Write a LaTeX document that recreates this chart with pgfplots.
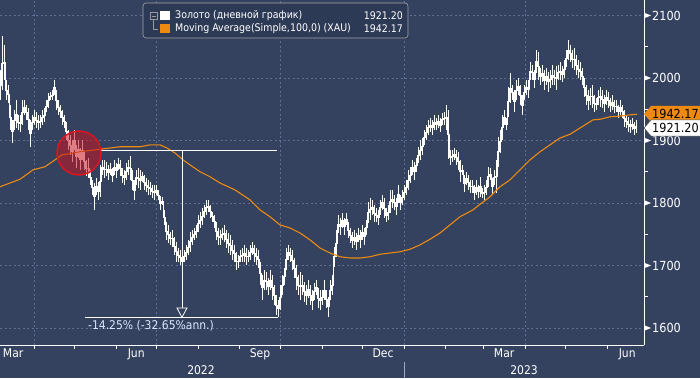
\documentclass[border=0pt]{standalone}
\usepackage{pgfplots}
\usepackage{pgfplotstable}
\pgfplotsset{compat=1.18}
\usepackage{fontspec}
\setmainfont{DejaVu Sans Condensed}
\definecolor{bg}{HTML}{34425F}
\definecolor{gridc}{HTML}{5C6F95}
\definecolor{ma}{HTML}{EE8A10}
\definecolor{legbg}{HTML}{2D3A56}
\definecolor{ann}{HTML}{DCE6FF}
\definecolor{circ}{HTML}{C8141E}
\definecolor{circb}{HTML}{E0141E}
\pgfplotstableread{
i hi lo
0 2013 1965
1 2067 1981
2 2053 1997
3 1997 1965
4 1989 1960
5 1957 1917
6 1933 1896
7 1949 1917
8 1965 1920
9 1941 1917
10 1941 1914
11 1965 1925
12 1965 1941
13 1957 1933
14 1952 1917
15 1933 1890
16 1941 1917
17 1949 1925
18 1946 1920
19 1941 1917
20 1941 1920
21 1949 1925
22 1952 1930
23 1965 1946
24 1976 1952
25 1978 1965
26 1981 1965
27 1997 1973
28 1981 1949
29 1965 1941
30 1957 1936
31 1949 1925
32 1941 1920
33 1930 1901
34 1917 1885
35 1909 1877
36 1901 1866
37 1917 1885
38 1893 1856
39 1901 1872
40 1888 1853
41 1901 1869
42 1882 1853
43 1869 1843
44 1872 1840
45 1853 1829
46 1837 1813
47 1832 1789
48 1840 1813
49 1834 1805
50 1861 1810
51 1869 1845
52 1869 1840
53 1866 1843
54 1861 1837
55 1864 1845
56 1856 1834
57 1869 1845
58 1864 1840
59 1872 1853
60 1869 1843
61 1856 1832
62 1853 1829
63 1864 1837
64 1869 1845
65 1875 1837
66 1853 1821
67 1837 1805
68 1853 1829
69 1856 1824
70 1853 1821
71 1850 1834
72 1845 1821
73 1840 1818
74 1837 1813
75 1834 1813
76 1829 1808
77 1829 1805
78 1829 1813
79 1821 1805
80 1811 1789
81 1810 1797
82 1789 1765
83 1770 1741
84 1765 1736
85 1754 1733
86 1757 1730
87 1746 1717
88 1738 1706
89 1728 1706
90 1725 1701
91 1722 1690
92 1725 1706
93 1733 1709
94 1741 1717
95 1754 1722
96 1757 1733
97 1760 1741
98 1765 1744
99 1781 1754
100 1786 1760
101 1792 1765
102 1797 1776
103 1805 1781
104 1805 1786
105 1797 1776
106 1786 1770
107 1781 1760
108 1770 1741
109 1760 1733
110 1757 1733
111 1760 1741
112 1765 1738
113 1757 1728
114 1752 1720
115 1749 1717
116 1741 1709
117 1733 1706
118 1722 1693
119 1717 1696
120 1725 1706
121 1728 1706
122 1733 1706
123 1728 1701
124 1725 1706
125 1733 1709
126 1738 1717
127 1733 1706
128 1728 1701
129 1725 1696
130 1706 1669
131 1685 1645
132 1693 1661
133 1690 1661
134 1680 1653
135 1693 1661
136 1685 1645
137 1669 1637
138 1653 1621
139 1645 1618
140 1669 1629
141 1685 1653
142 1696 1669
143 1728 1693
144 1733 1709
145 1728 1706
146 1725 1693
147 1712 1680
148 1701 1661
149 1685 1653
150 1690 1645
151 1685 1653
152 1674 1642
153 1669 1637
154 1677 1648
155 1669 1637
156 1661 1629
157 1672 1645
158 1677 1653
159 1664 1632
160 1661 1629
161 1661 1637
162 1677 1645
163 1661 1632
164 1650 1618
165 1677 1645
166 1685 1653
167 1730 1698
168 1757 1714
169 1781 1752
170 1776 1749
171 1784 1760
172 1776 1749
173 1784 1765
174 1770 1744
175 1760 1736
176 1754 1728
177 1757 1733
178 1752 1725
179 1760 1738
180 1757 1728
181 1765 1741
182 1760 1733
183 1773 1749
184 1802 1768
185 1808 1773
186 1805 1781
187 1797 1770
188 1792 1770
189 1789 1765
190 1805 1781
191 1813 1789
192 1808 1776
193 1792 1770
194 1797 1773
195 1821 1784
196 1821 1792
197 1813 1789
198 1808 1781
199 1829 1800
200 1813 1789
201 1821 1797
202 1829 1805
203 1837 1813
204 1853 1821
205 1858 1832
206 1869 1845
207 1866 1837
208 1872 1850
209 1890 1864
210 1901 1869
211 1904 1877
212 1917 1893
213 1925 1901
214 1933 1909
215 1936 1914
216 1933 1909
217 1941 1917
218 1936 1917
219 1941 1920
220 1936 1914
221 1944 1925
222 1946 1925
223 1957 1917
224 1949 1870
225 1885 1861
226 1885 1866
227 1888 1869
228 1885 1861
229 1882 1853
230 1869 1834
231 1861 1845
232 1845 1818
233 1850 1829
234 1845 1821
235 1837 1816
236 1837 1816
237 1829 1805
238 1837 1813
239 1829 1808
240 1842 1810
241 1824 1808
242 1829 1805
243 1837 1813
244 1858 1826
245 1856 1837
246 1840 1813
247 1853 1829
248 1869 1816
249 1906 1858
250 1917 1880
251 1941 1901
252 1949 1925
253 1936 1917
254 1986 1938
255 2008 1960
256 1989 1965
257 1981 1946
258 1997 1965
259 2000 1973
260 1989 1957
261 1973 1941
262 1989 1965
263 1997 1973
264 1997 1968
265 2026 1997
266 2021 1997
267 2013 1984
268 2045 2008
269 2042 1997
270 2016 1989
271 2021 1994
272 2013 1981
273 2016 1989
274 2010 1978
275 2013 1984
276 2021 1989
277 2013 1989
278 2019 1981
279 2021 1997
280 2026 1997
281 2019 1994
282 2029 2000
283 2045 2018
284 2061 2029
285 2053 2026
286 2045 2016
287 2048 2013
288 2037 2005
289 2029 2000
290 2026 1997
291 2016 1989
292 2000 1970
293 1989 1957
294 1981 1949
295 1984 1957
296 1989 1952
297 1973 1946
298 1968 1949
299 1981 1957
300 1986 1954
301 1981 1952
302 1973 1946
303 1981 1957
304 1978 1952
305 1968 1946
306 1973 1949
307 1965 1944
308 1965 1946
309 1957 1936
310 1965 1941
311 1957 1936
312 1949 1922
313 1941 1920
314 1938 1914
315 1933 1912
316 1936 1917
317 1930 1909
318 1933 1912
}\bars
\pgfplotstableread{
i p
0 1826
5 1832
10 1838
16.5 1853
22.5 1858
27.5 1869
31 1877
35 1879
40 1882
50 1886
60 1890
70 1890
75 1893
80 1893
83.5 1888
87.5 1880
91.5 1869
95 1861
100 1850
105 1842
110 1832
117.5 1821
125 1805
130 1789
135 1778
140 1765
145 1760
150 1752
155 1741
160 1728
165 1720
170 1714
175 1712
180 1712
185 1714
190 1718
195 1720
200 1722
205 1726
210 1733
215 1742
220 1752
230 1778
236.5 1789
240 1798
245 1810
250 1826
255 1837
260 1853
265 1869
270 1882
275 1893
280 1904
285 1910
290 1920
296.5 1933
300 1934
305 1938
310 1939
315 1941
318.5 1942
}\mavg
\begin{document}
\begin{tikzpicture}[x=1pt,y=1pt]
\useasboundingbox (0,0) rectangle (700,378);
\clip (0,0) rectangle (700,378);
\fill[bg] (0,0) rectangle (700,378);
\begin{axis}[
  at={(0pt,33pt)}, anchor=south west, scale only axis,
  width=644pt, height=345pt,
  xmin=64.7, xmax=543.5, ymin=1572.8, ymax=2124.8,
  axis x line*=bottom, axis y line*=right,
  axis line style={white, line width=0.9pt},
  xtick={90,181,273,365,455}, xticklabels={},
  minor xtick={120,151,212,243,304,334,396,424,485,516},
  tick align=outside, major tick length=4pt, minor tick length=4pt,
  x tick style={white, line width=0.7pt},
  ytick={1600,1700,...,2100}, yticklabels={},
  y tick style={draw=none},
  grid=major,
  major grid style={dash pattern=on 2pt off 2.5pt, color=gridc, line width=0.7pt},
  extra x ticks={74.5,166,258,349.5,439.5,531},
  extra x tick labels={Mar,Jun,Sep,Dec,Mar,Jun},
  extra x tick style={grid=none, major tick length=0pt, tick style={draw=none}},
  xticklabel style={white, font=\fontsize{12}{13}\selectfont, yshift=-0.5pt},
  clip=false,
]
\addplot[draw=none, mark=none,
  error bars/.cd, y dir=both, y explicit, error mark=none,
  error bar style={draw=white, line width=0.8pt}]
  table[x expr={64.7+1.487*\thisrow{i}}, y expr={(\thisrow{hi}+\thisrow{lo})/2},
        y error expr={(\thisrow{hi}-\thisrow{lo})/2}] {\bars};
\addplot[white, line width=0.55pt, mark=none, const plot mark mid]
  table[x expr={64.7+1.487*\thisrow{i}}, y expr={(\thisrow{hi}+\thisrow{lo})/2}] {\bars};
\addplot[ma, line width=1.1pt, mark=none] table[x expr={64.7+1.487*\thisrow{i}}, y=p] {\mavg};
% annotations
\draw[white, line width=0.9pt] (axis cs:139.8,1884.6) -- (axis cs:270.7,1884.6);
\draw[white, line width=0.9pt] (axis cs:200,1884.6) -- (axis cs:200,1632);
\draw[white, line width=0.8pt, fill=bg] (axis cs:196.3,1632) -- (axis cs:203.7,1632) -- (axis cs:200,1617) -- cycle;
\draw[white, line width=0.9pt] (axis cs:127.9,1617.6) -- (axis cs:271.4,1617.6);
\node[anchor=west, text=ann, inner sep=0pt, font=\fontsize{12}{13}\selectfont] at (axis cs:130.1,1603) {-14.25\% (-32.65\%ann.)};
\fill[circ, opacity=0.55] (axis cs:123.4,1880) circle[radius=22pt];
\draw[circb, line width=1.4pt] (axis cs:123.4,1880) circle[radius=22pt];
\end{axis}
% right axis decorations
\foreach \yy/\lab in {50/1600,112.5/1700,175/1800,237.5/1900,300/2000,362.5/2100}{
  \fill[white] (644,\yy+2.8) -- (651,\yy) -- (644,\yy-2.8) -- cycle;
  \node[anchor=west, text=white, inner sep=0pt, font=\fontsize{12.5}{13}\selectfont] at (652,\yy) {\lab};
}
\foreach \yy in {81.25,143.75,206.25,268.75,331.25}{
  \draw[white, line width=0.7pt] (644,\yy) -- (648,\yy);
}
% year labels
\draw[gridc!60!white, line width=0.6pt] (404,0) -- (404,16);
\node[text=white, inner sep=0pt, font=\fontsize{12}{13}\selectfont] at (201,7.5) {2022};
\node[text=white, inner sep=0pt, font=\fontsize{12}{13}\selectfont] at (524,7.5) {2023};
% value tags
\fill[ma] (644,264) -- (651,272) -- (702,272) -- (702,256) -- (651,256) -- cycle;
\node[anchor=west, inner sep=0pt, text=black, font=\fontsize{12.5}{13}\selectfont] at (652,264) {1942.17};
\draw[black!70, fill=white, line width=0.5pt] (644,250) -- (651,258) -- (702,258) -- (702,242) -- (651,242) -- cycle;
\node[anchor=west, inner sep=0pt, text=black, font=\fontsize{12.5}{13}\selectfont] at (652,250) {1921.20};
% legend
\draw[legbg, fill=legbg] (143,340) rectangle (408,375);
\draw[black!35!white, line width=0.6pt, rounded corners=3pt] (143,340) rectangle (408,375);
\draw[black!40!white, line width=0.5pt] (150,358.5) rectangle (157,365.5);
\draw[black!40!white, line width=0.5pt] (151.5,362) -- (155.5,362);
\draw[black!40!white, line width=0.5pt] (153.5,358.5) -- (153.5,349) -- (158,349);
\fill[white] (160,357.5) rectangle (169.5,367);
\fill[ma] (160,344.5) rectangle (169.5,354);
\node[anchor=west, inner sep=0pt, text=white, font=\fontsize{10.5}{11}\selectfont] at (175,362) {Золото (дневной график)};
\node[anchor=east, inner sep=0pt, text=white, font=\fontsize{10.5}{11}\selectfont] at (403,362) {1921.20};
\node[anchor=west, inner sep=0pt, text=white, font=\fontsize{10.5}{11}\selectfont] at (175,349) {Moving Average(Simple,100,0) (XAU)};
\node[anchor=east, inner sep=0pt, text=white, font=\fontsize{10.5}{11}\selectfont] at (403,349) {1942.17};
\end{tikzpicture}
\end{document}
